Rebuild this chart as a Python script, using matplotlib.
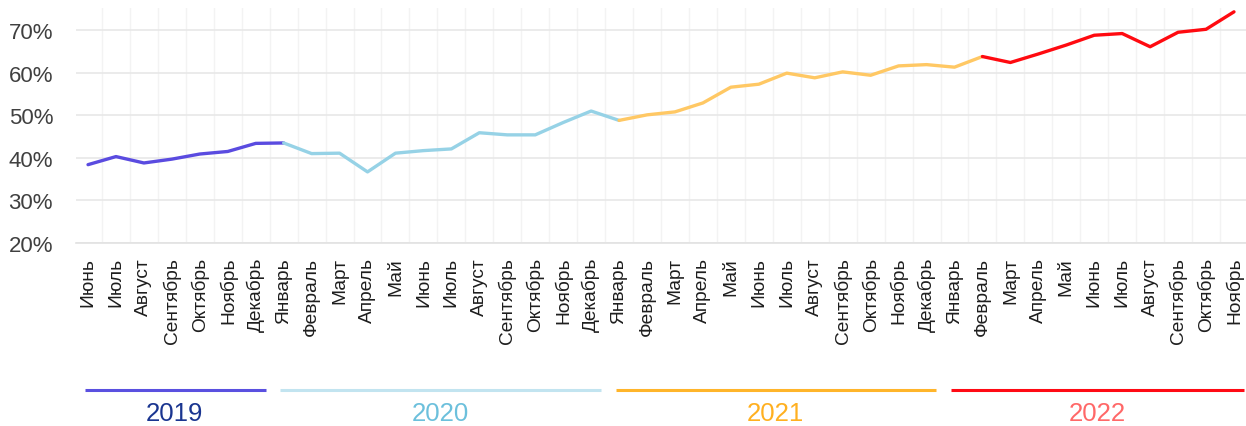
import matplotlib
matplotlib.use("Agg")
import matplotlib.pyplot as plt
import matplotlib.transforms as mtransforms
import numpy as np

plt.rcParams['font.family'] = ['Liberation Sans', 'DejaVu Sans']

months = ["Июнь", "Июль", "Август", "Сентябрь", "Октябрь", "Ноябрь", "Декабрь",
          "Январь", "Февраль", "Март", "Апрель", "Май", "Июнь", "Июль", "Август",
          "Сентябрь", "Октябрь", "Ноябрь", "Декабрь",
          "Январь", "Февраль", "Март", "Апрель", "Май", "Июнь", "Июль", "Август",
          "Сентябрь", "Октябрь", "Ноябрь", "Декабрь",
          "Январь", "Февраль", "Март", "Апрель", "Май", "Июнь", "Июль", "Август",
          "Сентябрь", "Октябрь", "Ноябрь"]

values = [38.4, 40.3, 38.8, 39.7, 40.9, 41.5, 43.4,
          43.5, 41.0, 41.1, 36.7, 41.1, 41.7, 42.1, 45.9, 45.4, 45.4, 48.3, 51.0,
          48.8, 50.1, 50.8, 52.9, 56.6, 57.3, 59.9, 58.8, 60.2, 59.4, 61.6, 61.9,
          61.3, 63.8, 62.4, 64.4, 66.5, 68.8, 69.2, 66.1, 69.5, 70.2, 74.3]

# colored line segments (start index, end index inclusive)
segments = [(0, 7), (7, 19), (19, 32), (32, 41)]
segment_colors = ["#5a4be0", "#96d2e6", "#ffc864", "#ff0a10"]

years = ["2019", "2020", "2021", "2022"]
year_spans = [(0, 6), (7, 18), (19, 30), (31, 41)]
bracket_colors = ["#5a50e0", "#c2e4f0", "#ffb52a", "#ff0a14"]
year_text_colors = ["#1a3590", "#6cc0dc", "#ffb020", "#ff6868"]

yticks = [20, 30, 40, 50, 60, 70]

W, H = 1246, 427
fig = plt.figure(figsize=(W / 100, H / 100), dpi=100)
left, right, bottom, top = 76, 1246, 244, 9
ax = fig.add_axes([left / W, 1 - bottom / H, (right - left) / W, (bottom - top) / H])

x = np.arange(len(values))
for (s, e), c in zip(segments, segment_colors):
    ax.plot(x[s:e + 1], values[s:e + 1], color=c, lw=2.4, solid_capstyle='round',
            solid_joinstyle='round', zorder=3)

ax.set_xlim(-0.43, 41.43)
ax.set_ylim(20, 75.2)
ax.set_yticks(yticks)
ax.set_yticklabels([f"{v}%" for v in yticks])
ax.set_xticks(x)
ax.set_xticklabels(months, rotation=90, ha='center', va='top')
ax.set_xticks(x[:-1] + 0.5, minor=True)

ax.tick_params(axis='y', length=0, pad=16.5, labelsize=16, labelcolor='#404040')
ax.tick_params(axis='x', which='major', length=0, pad=10, labelsize=13.8, labelcolor='#1e1e1e')
ax.tick_params(axis='x', which='minor', length=0)

ax.grid(axis='y', color='#e8e8e8', lw=1.2, zorder=0)
ax.grid(axis='x', which='minor', color='#f3f3f3', lw=1.0, zorder=0)
ax.grid(axis='x', which='major', visible=False)
for sp in ['left', 'right', 'top']:
    ax.spines[sp].set_visible(False)
ax.spines['bottom'].set_color('#e2e2e2')
ax.spines['bottom'].set_linewidth(1.2)

trans = mtransforms.blended_transform_factory(ax.transData, fig.transFigure)
y_line = 1 - 390.5 / H
y_text = 1 - 414 / H
for yr, (s, e), bc, tc in zip(years, year_spans, bracket_colors, year_text_colors):
    ax.plot([s - 0.12, e + 0.35], [y_line, y_line], transform=trans, color=bc,
            lw=2.2, clip_on=False, solid_capstyle='butt')
    ax.text((s + e) / 2 + 0.1, y_text, yr, transform=trans, ha='center', va='center',
            fontsize=18.5, color=tc)

fig.savefig("out.png", dpi=100)
